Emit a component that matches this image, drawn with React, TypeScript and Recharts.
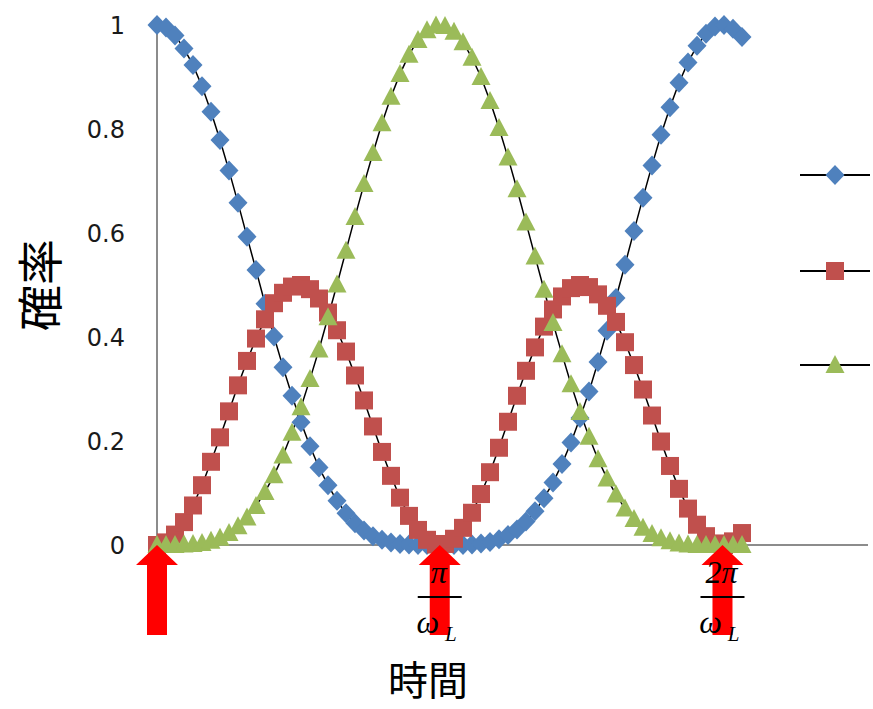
import React from 'react';
import { LineChart, Line, XAxis, YAxis, ReferenceDot } from 'recharts';

// time in units of 1/omega_L
const times = [
  0, 0.1, 0.2, 0.3, 0.4, 0.5, 0.6, 0.7, 0.8, 0.9,
  1.0, 1.1, 1.2, 1.3, 1.4, 1.5, 1.6, 1.7, 1.8, 1.9,
  2.0, 2.1, 2.2, 2.3, 2.4, 2.5, 2.6, 2.7, 2.8, 2.9,
  3.0, 3.1, 3.2, 3.3, 3.4, 3.5, 3.6, 3.7, 3.8, 3.9,
  4.0, 4.1, 4.2, 4.3, 4.4, 4.5, 4.6, 4.7, 4.8, 4.9,
  5.0, 5.1, 5.2, 5.3, 5.4, 5.5, 5.6, 5.7, 5.8, 5.9,
  6.0, 6.1, 6.2, 6.3, 6.4, 6.5,
];

// blue diamonds
const stateA = [
  1, 0.995, 0.98, 0.955, 0.923, 0.882, 0.833, 0.779, 0.72, 0.658,
  0.593, 0.529, 0.464, 0.401, 0.342, 0.287, 0.236, 0.19, 0.149, 0.115,
  0.085, 0.061, 0.042, 0.028, 0.017, 0.01, 0.005, 0.002, 0.001, 0,
  0, 0, 0, 0, 0, 0.001, 0.003, 0.006, 0.011, 0.019,
  0.03, 0.045, 0.065, 0.09, 0.12, 0.156, 0.197, 0.244, 0.295, 0.352,
  0.412, 0.475, 0.539, 0.604, 0.668, 0.73, 0.789, 0.842, 0.889, 0.928,
  0.96, 0.983, 0.997, 1, 0.993, 0.977,
];

// red squares
const stateB = [
  0, 0.005, 0.02, 0.044, 0.076, 0.115, 0.16, 0.207, 0.257, 0.307,
  0.354, 0.397, 0.434, 0.465, 0.485, 0.497, 0.5, 0.492, 0.474, 0.447,
  0.413, 0.372, 0.326, 0.278, 0.228, 0.179, 0.133, 0.091, 0.056, 0.029,
  0.01, 0.001, 0.002, 0.012, 0.033, 0.062, 0.098, 0.14, 0.187, 0.237,
  0.287, 0.335, 0.38, 0.42, 0.453, 0.478, 0.494, 0.5, 0.496, 0.482,
  0.46, 0.429, 0.39, 0.346, 0.299, 0.249, 0.199, 0.152, 0.108, 0.07,
  0.039, 0.017, 0.003, 0, 0.007, 0.023,
];

// green triangles
const stateC = [
  0, 0, 0, 0.001, 0.002, 0.004, 0.008, 0.014, 0.023, 0.036,
  0.053, 0.075, 0.102, 0.134, 0.172, 0.216, 0.265, 0.319, 0.376, 0.438,
  0.501, 0.566, 0.631, 0.694, 0.754, 0.811, 0.862, 0.906, 0.943, 0.971,
  0.99, 0.999, 0.998, 0.987, 0.967, 0.937, 0.9, 0.854, 0.802, 0.745,
  0.684, 0.62, 0.555, 0.491, 0.427, 0.367, 0.309, 0.256, 0.208, 0.165,
  0.128, 0.097, 0.07, 0.05, 0.033, 0.021, 0.013, 0.007, 0.003, 0.001,
  0, 0, 0, 0, 0, 0,
];

const yTicks = [0, 0.2, 0.4, 0.6, 0.8, 1];
const xMarks = [Math.PI, 2 * Math.PI];
const xMarkNumerators = ['π', '2π'];
const arrowTimes = [0, Math.PI, 2 * Math.PI];

const BLUE = '#4F81BD';
const RED = '#C0504D';
const GREEN = '#9BBB59';

const data = times.map((t, i) => ({ t, a: stateA[i], b: stateB[i], c: stateC[i] }));

const diamondPath = (cx: number, cy: number) =>
  `M${cx},${cy - 10}L${cx + 9.5},${cy}L${cx},${cy + 10}L${cx - 9.5},${cy}Z`;
const squarePath = (cx: number, cy: number) =>
  `M${cx - 9},${cy - 9}h18v18h-18Z`;
const trianglePath = (cx: number, cy: number) =>
  `M${cx},${cy - 10}L${cx + 9.5},${cy + 8}L${cx - 9.5},${cy + 8}Z`;

const makeDot = (pathFn: (x: number, y: number) => string, color: string) => (p: any) => {
  if (p.cx == null || p.cy == null) return <g key={`e-${p.index}`} />;
  return <path key={`m-${p.index}`} d={pathFn(p.cx, p.cy)} fill={color} />;
};

const series = [
  { key: 'a', color: BLUE, path: diamondPath },
  { key: 'b', color: RED, path: squarePath },
  { key: 'c', color: GREEN, path: trianglePath },
];
const legendY = [15, 111, 205];

const FracTick = (p: any) => {
  const { x, y, payload } = p;
  const idx = xMarks.findIndex((v) => Math.abs(v - payload.value) < 1e-6);
  const num = xMarkNumerators[idx] ?? '';
  const font = { fontFamily: '"Liberation Serif", "DejaVu Serif", serif', fontStyle: 'italic' as const };
  return (
    <g>
      <text x={x - 1} y={y + 38} textAnchor="middle" fontSize={32} fill="#000" {...font}>{num}</text>
      <line x1={x - 22} x2={x + 22} y1={y + 52} y2={y + 52} stroke="#000" strokeWidth={2} />
      <text x={x - 12} y={y + 88} textAnchor="middle" fontSize={32} fill="#000" {...font}>ω</text>
      <text x={x + 11} y={y + 96} textAnchor="middle" fontSize={21} fill="#000" {...font}>L</text>
    </g>
  );
};

const Arrow = (p: any) => {
  const { cx, cy } = p;
  if (cx == null || cy == null) return <g />;
  return (
    <path
      d={`M${cx},${cy}L${cx + 21},${cy + 20}L${cx + 10},${cy + 20}L${cx + 10},${cy + 90}L${cx - 10},${cy + 90}L${cx - 10},${cy + 20}L${cx - 21},${cy + 20}Z`}
      fill="#FF0000"
    />
  );
};

const tickFont = { fontFamily: '"DejaVu Sans", sans-serif', fontSize: 24, fill: '#1a1a1a' };
const cjkFont = '"Noto Sans CJK JP", "Noto Sans CJK SC", sans-serif';

export default function App() {
  return (
    <div style={{ position: 'absolute', left: 0, top: 0, width: 873, height: 709, background: '#fff' }}>
      <LineChart width={873} height={709} data={data} margin={{ top: 25, right: 5, bottom: 14, left: 0 }}>
        <XAxis
          dataKey="t"
          type="number"
          domain={[0, 7.9]}
          ticks={xMarks}
          interval={0}
          tickLine={false}
          tickSize={0}
          tickMargin={0}
          height={150}
          axisLine={{ stroke: '#8c8c8c', strokeWidth: 2 }}
          tick={FracTick}
          label={{
            value: '時間',
            content: () => (
              <text x={428} y={695} textAnchor="middle" fontSize={40} fontFamily={cjkFont} fill="#000">
                時間
              </text>
            ),
          }}
        />
        <YAxis
          type="number"
          domain={[0, 1]}
          ticks={yTicks}
          width={157}
          tickLine={false}
          tickSize={0}
          tickMargin={32}
          axisLine={{ stroke: '#8c8c8c', strokeWidth: 2 }}
          tick={tickFont}
          label={{
            value: '確率',
            content: (lp: any) => {
              const vb = lp.viewBox || { y: 25, height: 520 };
              const cy = vb.y + vb.height / 2;
              return (
                <text
                  x={37}
                  y={cy}
                  transform={`rotate(-90, 37, ${cy})`}
                  textAnchor="middle"
                  dominantBaseline="central"
                  fontSize={46}
                  fontFamily={cjkFont}
                  fill="#000"
                >
                  確率
                </text>
              );
            },
          }}
        />
        {series.map((s) => (
          <Line
            key={s.key}
            dataKey={s.key}
            type="linear"
            stroke="#000"
            strokeWidth={1.5}
            dot={makeDot(s.path, s.color)}
            activeDot={false}
            isAnimationActive={false}
          />
        ))}
        {arrowTimes.map((t) => (
          <ReferenceDot key={t} x={t} y={0} r={0} ifOverflow="visible" shape={Arrow} />
        ))}
      </LineChart>
      <svg width={75} height={230} style={{ position: 'absolute', left: 798, top: 160 }}>
        {series.map((s, i) => (
          <g key={s.key}>
            <line x1={2} x2={72} y1={legendY[i]} y2={legendY[i]} stroke="#000" strokeWidth={2} />
            <path d={s.path(37, legendY[i])} fill={s.color} />
          </g>
        ))}
      </svg>
    </div>
  );
}
